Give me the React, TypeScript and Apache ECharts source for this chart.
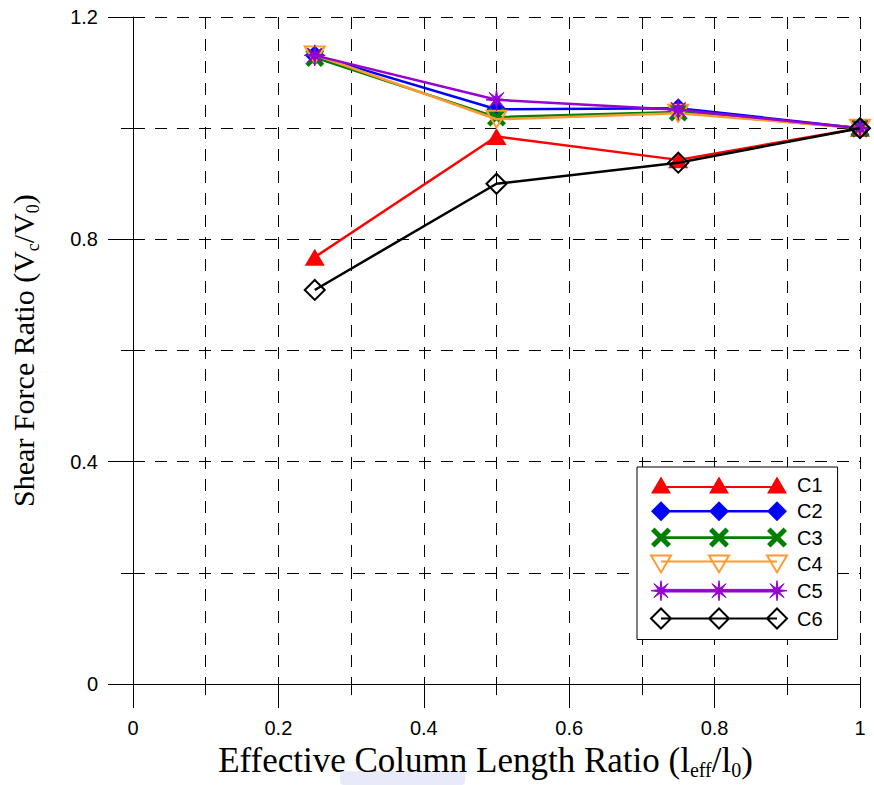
import React, { useEffect, useRef } from "react";
import * as echarts from "echarts";

const xValues = [0.25, 0.5, 0.75, 1.0];
const seriesNames = ["C1", "C2", "C3", "C4", "C5", "C6"];
const c1 = [0.768, 0.985, 0.943, 1.0];
const c2 = [1.131, 1.034, 1.036, 1.0];
const c3 = [1.127, 1.02, 1.029, 1.0];
const c4 = [1.132, 1.016, 1.027, 1.0];
const c5 = [1.131, 1.051, 1.033, 1.0];
const c6 = [0.709, 0.9, 0.938, 1.0];
const seriesValues = [c1, c2, c3, c4, c5, c6];
const colors = ["#ff0000", "#0000ff", "#008000", "#ff9933", "#9600d2", "#000000"];

function starPath(cx: number, cy: number, R: number, r: number, n: number) {
  const pts: string[] = [];
  for (let i = 0; i < n * 2; i++) {
    const a = (Math.PI * i) / n - Math.PI / 2;
    const rad = i % 2 === 0 ? R : r;
    pts.push(`${(cx + rad * Math.cos(a)).toFixed(2)} ${(cy + rad * Math.sin(a)).toFixed(2)}`);
  }
  return "M" + pts.join("L") + "Z";
}
function xPath(cx: number, cy: number) {
  const p = [
    [-10, -6.5], [-6.5, -10], [0, -3.5], [6.5, -10], [10, -6.5], [3.5, 0],
    [10, 6.5], [6.5, 10], [0, 3.5], [-6.5, 10], [-10, 6.5], [-3.5, 0],
  ];
  return "M" + p.map(([a, b]) => `${cx + a} ${cy + b}`).join("L") + "Z";
}
function diamondPath(cx: number, cy: number) {
  return `M${cx - 10} ${cy}L${cx} ${cy - 10}L${cx + 10} ${cy}L${cx} ${cy + 10}Z`;
}
function rectLine(a: number, b: number, y: number, h: number) {
  return `M${a} ${y - h}L${b} ${y - h}L${b} ${y + h}L${a} ${y + h}Z`;
}
const cxs = [10, 68, 126];

const legendIcons = [
  "path://" + cxs.map((c) => `M${c - 10} 19L${c} 2L${c + 10} 19Z`).join("") + rectLine(10, 126, 12.5, 1.1),
  "path://" + cxs.map((c) => diamondPath(c, 10)).join("") + rectLine(10, 126, 10, 1.3),
  "path://" + cxs.map((c) => xPath(c, 10)).join("") + rectLine(10, 126, 10, 1.3),
  "path://" + cxs.map((c) => `M${c - 10} 2L${c + 10} 2L${c} 19Z`).join("") + "M10 8L126 8",
  "path://" + cxs.map((c) => starPath(c, 10, 10, 2.6, 8)).join("") + rectLine(10, 126, 10, 1.3),
  "path://" + cxs.map((c) => diamondPath(c, 10)).join("") + "M10 10L126 10",
];

const plotSymbols: any[] = [
  { symbol: "triangle", symbolSize: [20, 17], itemStyle: { color: colors[0] } },
  { symbol: "diamond", symbolSize: [20, 20], itemStyle: { color: colors[1] } },
  { symbol: "path://" + xPath(10, 10), symbolSize: [19, 19], itemStyle: { color: colors[2] } },
  { symbol: "path://M0 0L20 0L10 17Z", symbolSize: [20, 17], itemStyle: { color: "transparent", borderColor: colors[3], borderWidth: 2 } },
  { symbol: "path://" + starPath(10, 10, 10, 2.6, 8), symbolSize: [21, 21], itemStyle: { color: colors[4], borderColor: colors[4], borderWidth: 1 } },
  { symbol: "diamond", symbolSize: [20, 20], itemStyle: { color: "transparent", borderColor: colors[5], borderWidth: 2 } },
];

const legendItemStyles: any[] = [
  { color: colors[0], borderWidth: 0 },
  { color: colors[1], borderWidth: 0 },
  { color: colors[2], borderWidth: 0 },
  { color: "transparent", borderColor: colors[3], borderWidth: 2 },
  { color: colors[4], borderColor: colors[4], borderWidth: 1 },
  { color: "transparent", borderColor: colors[5], borderWidth: 2 },
];

const serif = "'Liberation Serif', 'Times New Roman', serif";
const sans = "'Liberation Sans', Arial, sans-serif";
const xNameRich = {
  a: { fontFamily: serif, fontSize: 35, lineHeight: 34, color: "#000", verticalAlign: "top" },
  s: { fontFamily: serif, fontSize: 20, lineHeight: 20, color: "#000", verticalAlign: "top", padding: [17, 0, 0, 0] },
};
const yNameRich = {
  a: { fontFamily: serif, fontSize: 30, lineHeight: 30, color: "#000", verticalAlign: "top" },
  s: { fontFamily: serif, fontSize: 18, lineHeight: 18, color: "#000", verticalAlign: "top", padding: [16, 0, 0, 0] },
};

export default function App() {
  const ref = useRef<HTMLDivElement>(null);
  useEffect(() => {
    if (!ref.current) return;
    document.body.style.margin = "0";
    document.body.style.overflow = "hidden";
    const chart = echarts.init(ref.current, undefined, { renderer: "svg" });
    const dash = { type: [12, 10], color: "#000", width: 1 };
    const option: any = {
      animation: false,
      backgroundColor: "#fff",
      grid: { left: 132, right: 14, top: 17, bottom: 97, containLabel: false },
      xAxis: {
        type: "value",
        min: 0,
        max: 1,
        interval: 0.2,
        name: "{a|Effective Column Length Ratio (l}{s|eff}{a|/l}{s|0}{a|)}",
        nameLocation: "middle",
        nameGap: 58,
        nameTextStyle: { rich: xNameRich, padding: [0, 22, 0, 0] },
        axisLine: { show: true, onZero: false, lineStyle: { color: "#000", width: 1 } },
        axisTick: { show: true, length: 24, lineStyle: { color: "#000", width: 1 } },
        minorTick: { show: true, splitNumber: 2, length: 11, lineStyle: { color: "#000", width: 1 } },
        splitLine: { show: true, lineStyle: dash },
        minorSplitLine: { show: true, lineStyle: dash },
        axisLabel: { fontSize: 20, fontFamily: sans, color: "#000", margin: 34, formatter: (v: number) => String(+v.toFixed(1)) },
      },
      yAxis: {
        type: "value",
        min: 0,
        max: 1.2,
        interval: 0.4,
        name: "{a|Shear Force Ratio (V}{s|c}{a|/V}{s|0}{a|)}",
        nameLocation: "middle",
        nameRotate: 90,
        nameGap: 95,
        nameTextStyle: { rich: yNameRich },
        axisLine: { show: true, onZero: false, lineStyle: { color: "#000", width: 1 } },
        axisTick: { show: true, length: 25, lineStyle: { color: "#000", width: 1 } },
        minorTick: { show: true, splitNumber: 2, length: 12, lineStyle: { color: "#000", width: 1 } },
        splitLine: { show: true, lineStyle: dash },
        minorSplitLine: { show: true, lineStyle: dash },
        axisLabel: { fontSize: 20, fontFamily: sans, color: "#000", margin: 35, formatter: (v: number) => String(+v.toFixed(1)) },
      },
      legend: {
        orient: "vertical",
        left: 637,
        top: 467,
        padding: [8, 15, 10, 13],
        itemWidth: 136,
        itemHeight: 20,
        itemGap: 6.3,
        backgroundColor: "#fff",
        borderColor: "#000",
        borderWidth: 1,
        borderRadius: 0,
        selectedMode: false,
        textStyle: { fontSize: 20, lineHeight: 20, fontFamily: sans, color: "#000", padding: [0, 0, 0, 5] },
        data: seriesNames.map((n, i) => ({ name: n, icon: legendIcons[i], itemStyle: legendItemStyles[i] })),
      },
      graphic: [
        {
          type: "rect",
          left: 340,
          top: 771,
          shape: { width: 125, height: 14, r: 4 },
          style: { fill: "#cdd1f5", opacity: 0.45 },
          silent: true,
        },
      ],
      series: seriesNames.map((n, i) => ({
        name: n,
        type: "line",
        data: xValues.map((x, j) => [x, seriesValues[i][j]]),
        showSymbol: true,
        symbol: plotSymbols[i].symbol,
        symbolSize: plotSymbols[i].symbolSize,
        itemStyle: plotSymbols[i].itemStyle,
        lineStyle: { color: colors[i], width: 2.5 },
        z: 2 + i,
        emphasis: { disabled: true },
      })),
    };
    chart.setOption(option);
    return () => chart.dispose();
  }, []);
  return (
    <div
      ref={ref}
      style={{ position: "absolute", left: 0, top: 0, width: 874, height: 785, background: "#fff" }}
    />
  );
}
